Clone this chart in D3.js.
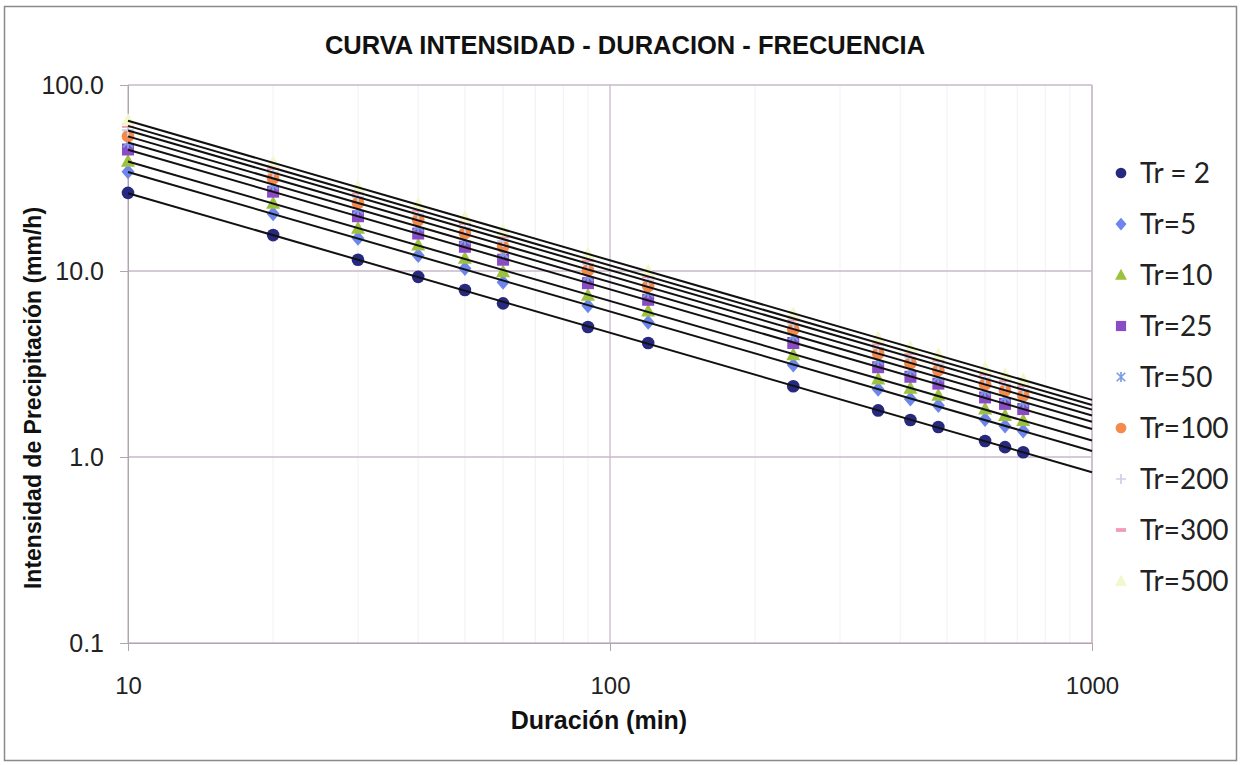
<!DOCTYPE html>
<html>
<head>
<meta charset="utf-8">
<script src="https://cdn.jsdelivr.net/npm/d3@7"></script>
<style>
  body { margin: 0; background: #fff; }
  svg { display: block; }
</style>
</head>
<body>
<div id="chart-area"></div>
<script>
// Durations (min)
const durations = [10, 20, 30, 40, 50, 60, 90, 120, 240, 360, 420, 480, 600, 660, 720]

// Intensity (mm/h) per return period
const tr2   = [26.3, 15.6, 11.5, 9.3, 7.9, 6.7, 5.0, 4.1, 2.40, 1.78, 1.58, 1.45, 1.22, 1.13, 1.06]
const tr5   = [34.2, 20.3, 15.0, 12.1, 10.3, 8.7, 6.5, 5.3, 3.12, 2.31, 2.05, 1.89, 1.59, 1.47, 1.38]
const tr10  = [38.9, 23.1, 17.0, 13.8, 11.7, 9.9, 7.4, 6.1, 3.55, 2.63, 2.34, 2.15, 1.81, 1.67, 1.57]
const tr25  = [45.0, 26.7, 19.7, 15.9, 13.5, 11.5, 8.6, 7.0, 4.10, 3.04, 2.70, 2.48, 2.09, 1.93, 1.81]
const tr50  = [49.2, 29.2, 21.5, 17.4, 14.8, 12.5, 9.4, 7.7, 4.49, 3.33, 2.95, 2.71, 2.28, 2.11, 1.98]
const tr100 = [53.1, 31.5, 23.2, 18.8, 16.0, 13.5, 10.1, 8.3, 4.85, 3.60, 3.19, 2.93, 2.46, 2.28, 2.14]
const tr200 = [57.1, 33.9, 25.0, 20.2, 17.1, 14.5, 10.9, 8.9, 5.21, 3.86, 3.43, 3.15, 2.65, 2.45, 2.30]
const tr300 = [60.5, 35.9, 26.5, 21.4, 18.2, 15.4, 11.5, 9.4, 5.52, 4.09, 3.63, 3.34, 2.81, 2.60, 2.44]
const tr500 = [64.4, 38.2, 28.2, 22.8, 19.4, 16.4, 12.3, 10.0, 5.88, 4.36, 3.87, 3.55, 2.99, 2.77, 2.60]

const seriesNames = ["Tr = 2", "Tr=5", "Tr=10", "Tr=25", "Tr=50", "Tr=100", "Tr=200", "Tr=300", "Tr=500"]
const seriesValues = [tr2, tr5, tr10, tr25, tr50, tr100, tr200, tr300, tr500]
const seriesColors = ["#27297f", "#6d86ee", "#9dc23e", "#8a4cc6", "#7a9de6", "#f48a4c", "#cdd0e8", "#f29cba", "#f3f7cc"]
const seriesShapes = ["circle", "diamond", "triangle", "square", "star", "circle", "plus", "dash", "triangle"]

const xTicks = [10, 100, 1000]
const yTicks = [0.1, 1, 10, 100]
const xMinor = [20, 30, 40, 50, 60, 70, 80, 90, 200, 300, 400, 500, 600, 700, 800, 900]

const W = 1241, H = 765
const MARGIN = { LEFT: 128, RIGHT: 149, TOP: 85, BOTTOM: 122 }
const WIDTH = W - MARGIN.LEFT - MARGIN.RIGHT
const HEIGHT = H - MARGIN.TOP - MARGIN.BOTTOM

const svg = d3.select("#chart-area").append("svg")
  .attr("width", W)
  .attr("height", H)

// outer chart border
svg.append("rect")
  .attr("x", 4.5).attr("y", 6.5)
  .attr("width", 1232).attr("height", 754)
  .attr("fill", "#fff")
  .attr("stroke", "#8a8a8a")
  .attr("stroke-width", 1.5)

const g = svg.append("g")
  .attr("transform", "translate(" + MARGIN.LEFT + ", " + MARGIN.TOP + ")")

const x = d3.scaleLog().domain([10, 1000]).range([0, WIDTH])
const y = d3.scaleLog().domain([0.1, 100]).range([HEIGHT, 0])

// minor vertical grid (very faint)
g.selectAll(".minor")
  .data(xMinor)
  .enter().append("line")
    .attr("x1", d => x(d)).attr("x2", d => x(d))
    .attr("y1", 0).attr("y2", HEIGHT)
    .attr("stroke", "#f3f0f3")
    .attr("stroke-width", 1)

// major grid
g.selectAll(".hgrid")
  .data(yTicks)
  .enter().append("line")
    .attr("x1", 0).attr("x2", WIDTH)
    .attr("y1", d => y(d)).attr("y2", d => y(d))
    .attr("stroke", "#c9b9c9")
    .attr("stroke-width", 1.3)

g.selectAll(".vgrid")
  .data(xTicks)
  .enter().append("line")
    .attr("x1", d => x(d)).attr("x2", d => x(d))
    .attr("y1", 0).attr("y2", HEIGHT)
    .attr("stroke", "#c9b9c9")
    .attr("stroke-width", 1.3)

// axes
const xAxisCall = d3.axisBottom(x)
  .tickValues(xTicks)
  .tickSize(8)
  .tickPadding(26)
  .tickFormat(d3.format("d"))
const xAxis = g.append("g")
  .attr("transform", "translate(0, " + HEIGHT + ")")
  .call(xAxisCall)
xAxis.select(".domain").attr("stroke", "#b0a4b0")
xAxis.selectAll("line").attr("stroke", "#b0a4b0")
xAxis.selectAll("text")
  .attr("font-family", "Liberation Sans, Arial, sans-serif")
  .attr("font-size", "24px")
  .attr("fill", "#222")

const yAxisCall = d3.axisLeft(y)
  .tickValues(yTicks)
  .tickSize(8)
  .tickPadding(16)
  .tickFormat(d3.format(".1f"))
const yAxis = g.append("g").call(yAxisCall)
yAxis.select(".domain").attr("stroke", "#b0a4b0")
yAxis.selectAll("line").attr("stroke", "#b0a4b0")
yAxis.selectAll("text")
  .attr("font-family", "Liberation Sans, Arial, sans-serif")
  .attr("font-size", "25px")
  .attr("fill", "#222")

// right border of plot
g.append("line")
  .attr("x1", WIDTH).attr("x2", WIDTH)
  .attr("y1", 0).attr("y2", HEIGHT)
  .attr("stroke", "#c9b9c9")
  .attr("stroke-width", 1.3)

// marker symbols
function markerPath(shape) {
  if (shape === "circle") return d3.symbol(d3.symbolCircle, 125)()
  if (shape === "diamond") return "M0,-7.5L6.5,0L0,7.5L-6.5,0Z"
  if (shape === "triangle") return "M0,-7.5L7,5.5L-7,5.5Z"
  if (shape === "square") return "M-6,-6H6V6H-6Z"
  if (shape === "star") return "M-5,-5L5,5M-5,5L5,-5M0,-6V6"
  if (shape === "plus") return "M-6,0H6M0,-6V6"
  if (shape === "dash") return "M-6,0H6"
  return d3.symbol(d3.symbolCircle, 100)()
}
function isStroke(shape) {
  return shape === "star" || shape === "plus" || shape === "dash"
}

// power trendlines (least squares in log-log)
function powerFit(xs, ys) {
  const lx = xs.map(Math.log10), ly = ys.map(Math.log10)
  const mx = d3.mean(lx), my = d3.mean(ly)
  let num = 0, den = 0
  lx.forEach((v, i) => { num += (v - mx) * (ly[i] - my); den += (v - mx) * (v - mx) })
  const b = num / den
  const a = my - b * mx
  return t => Math.pow(10, a + b * Math.log10(t))
}

const line = d3.line().x(d => x(d[0])).y(d => y(d[1]))

// markers (drawn first, trendlines on top like Excel)
seriesValues.forEach(function(vals, si) {
  const shape = seriesShapes[si]
  g.append("g")
    .selectAll("path")
    .data(durations.map((d, i) => [d, vals[i]]))
    .enter().append("path")
      .attr("transform", d => "translate(" + x(d[0]) + "," + y(d[1]) + ")")
      .attr("d", markerPath(shape))
      .attr("fill", isStroke(shape) ? "none" : seriesColors[si])
      .attr("stroke", isStroke(shape) ? seriesColors[si] : "none")
      .attr("stroke-width", shape === "dash" ? 4.5 : 2)
})

seriesValues.forEach(function(vals, si) {
  const f = powerFit(durations, vals)
  g.append("path")
    .datum([10, 1000].map(t => [t, f(t)]))
    .attr("d", line)
    .attr("fill", "none")
    .attr("stroke", "#111")
    .attr("stroke-width", 2)
})

// title
svg.append("text")
  .attr("x", 625)
  .attr("y", 54)
  .attr("text-anchor", "middle")
  .attr("font-family", "Liberation Sans, Arial, sans-serif")
  .attr("font-weight", "bold")
  .attr("font-size", "25.5px")
  .attr("fill", "#111")
  .text("CURVA INTENSIDAD - DURACION - FRECUENCIA")

// X label
svg.append("text")
  .attr("x", 599)
  .attr("y", 729)
  .attr("text-anchor", "middle")
  .attr("font-family", "Liberation Sans, Arial, sans-serif")
  .attr("font-weight", "bold")
  .attr("font-size", "25px")
  .attr("fill", "#111")
  .text("Duración (min)")

// Y label
svg.append("text")
  .attr("x", -398)
  .attr("y", 41)
  .attr("transform", "rotate(-90)")
  .attr("text-anchor", "middle")
  .attr("font-family", "Liberation Sans, Arial, sans-serif")
  .attr("font-weight", "bold")
  .attr("font-size", "23px")
  .attr("fill", "#111")
  .text("Intensidad de Precipitación (mm/h)")

// legend
const legend = svg.append("g")
  .attr("transform", "translate(1121, 173)")

seriesNames.forEach(function(name, i) {
  const shape = seriesShapes[i]
  const row = legend.append("g").attr("transform", "translate(0, " + (i * 51) + ")")
  row.append("path")
    .attr("d", markerPath(shape))
    .attr("transform", "scale(0.85)")
    .attr("fill", isStroke(shape) ? "none" : seriesColors[i])
    .attr("stroke", isStroke(shape) ? seriesColors[i] : "none")
    .attr("stroke-width", shape === "dash" ? 4.5 : 2)
  row.append("text")
    .attr("x", 19)
    .attr("y", 0)
    .attr("dy", "0.36em")
    .attr("font-family", "Lato, sans-serif")
    .attr("font-size", "28px")
    .attr("fill", "#222")
    .text(name)
})
</script>
</body>
</html>
